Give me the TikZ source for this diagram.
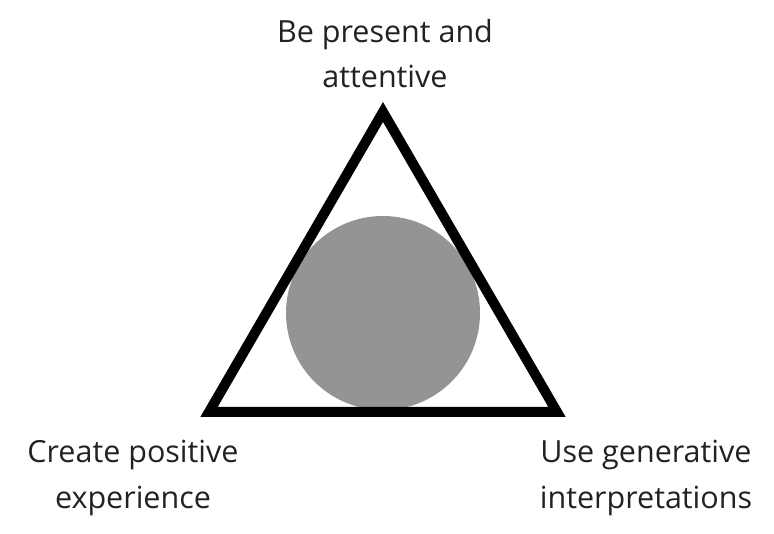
\documentclass[tikz,border=0pt]{standalone}
\usepackage{fontspec}
\setmainfont{Open Sans}
\definecolor{txt}{HTML}{222222}
\definecolor{disk}{HTML}{949494}
\begin{document}
\begin{tikzpicture}[x=1pt,y=-1pt,
  lbl/.style={text=txt,font=\fontsize{30.5}{45}\selectfont,inner sep=0pt,anchor=base}]
\useasboundingbox (0,0) rectangle (774,534);
\fill[disk] (383,313) circle (97);
\coordinate (A) at (383,112);
\coordinate (B) at (209,412);
\coordinate (C) at (557,412);
\draw[line width=10,miter limit=10] (A) -- (B) -- (C) -- cycle;
\node[lbl] (top1) at (385,43) {Be present and};
\node[lbl] (top2) at (385,88) {attentive};
\node[lbl] (left1) at (133,463) {Create positive};
\node[lbl] (left2) at (133,508) {experience};
\node[lbl] (right1) at (646,463) {Use generative};
\node[lbl] (right2) at (646,508) {interpretations};
\end{tikzpicture}
\end{document}
